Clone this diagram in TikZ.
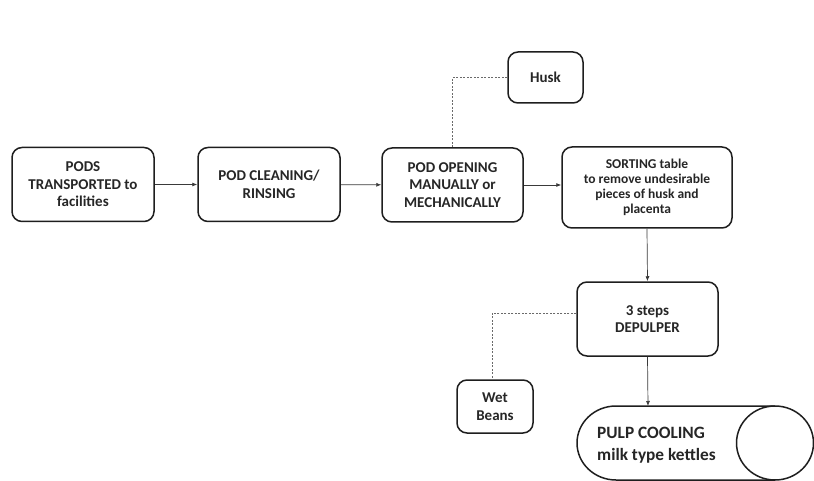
\documentclass[tikz,border=0pt]{standalone}
\usepackage{fontspec}
\setmainfont{Carlito}
\usetikzlibrary{arrows.meta,calc}
\definecolor{ink}{HTML}{262626}
\definecolor{edge}{HTML}{1E1E1E}
\definecolor{conn}{HTML}{3A3A3A}
\definecolor{dots}{HTML}{6A6A6A}
\tikzset{
  procbox/.style={draw=edge, line width=1.5pt, rounded corners=10pt, fill=white,
    align=center, text=ink, font=\fontsize{15}{17.5}\selectfont\bfseries, inner sep=2pt},
  flowarrow/.style={draw=conn, line width=0.7pt, -{Latex[length=5pt,width=4pt]}},
  dotline/.style={draw=dots, line width=0.8pt, dash pattern=on 2pt off 1.5pt},
}
\begin{document}
\begin{tikzpicture}[x=1pt,y=1pt]
\useasboundingbox (0,0) rectangle (814,-481);
\node[procbox, minimum width=142pt, minimum height=74pt] (pods) at (83,-184.5) {PODS\\TRANSPORTED to\\facilities};
\node[procbox, minimum width=142pt, minimum height=74pt] (clean) at (269,-184.5) {POD CLEANING/\\RINSING};
\node[procbox, minimum width=141pt, minimum height=74pt] (open) at (452.5,-185) {POD OPENING\\MANUALLY or\\MECHANICALLY};
\node[procbox, minimum width=75pt, minimum height=51pt] (husk) at (545.5,-77.5) {Husk};
\node[procbox, minimum width=170pt, minimum height=81pt, font=\fontsize{13.5}{15}\selectfont\bfseries] (sort) at (647,-187.5) {SORTING table\\to remove undesirable\\pieces of husk and\\placenta};
\node[procbox, minimum width=141pt, minimum height=74pt] (depulp) at (647.5,-319) {3 steps\\DEPULPER};
\node[procbox, minimum width=76pt, minimum height=53pt] (wet) at (495,-406.5) {Wet\\Beans};
% cylinder (pulp cooling)
\draw[edge, line width=1.5pt, fill=white] (775,-406) -- (616,-406) arc[start angle=90, end angle=270, x radius=39pt, y radius=37pt] -- (775,-480);
\draw[edge, line width=1.5pt, fill=white] (775,-443) ellipse [x radius=38.5pt, y radius=37pt];
\coordinate (cooltop) at (648,-406);
\node[anchor=west, align=left, text=ink, font=\fontsize{17.3}{21.5}\selectfont\bfseries, inner sep=0pt] (cool) at (597,-445) {PULP COOLING\\milk type kettles};
% connectors
\draw[flowarrow] (pods) -- (clean);
\draw[flowarrow] (clean) -- (open);
\draw[flowarrow] (open.east) -- (open.east -| sort.west);
\draw[flowarrow] (sort.south) -- (depulp.north);
\draw[flowarrow] (depulp.south) -- (cooltop);
\draw[dotline] (open.north) |- (husk.west);
\draw[dotline] ([yshift=6pt]depulp.west) -| ([xshift=-3pt]wet.north);
\end{tikzpicture}
\end{document}
